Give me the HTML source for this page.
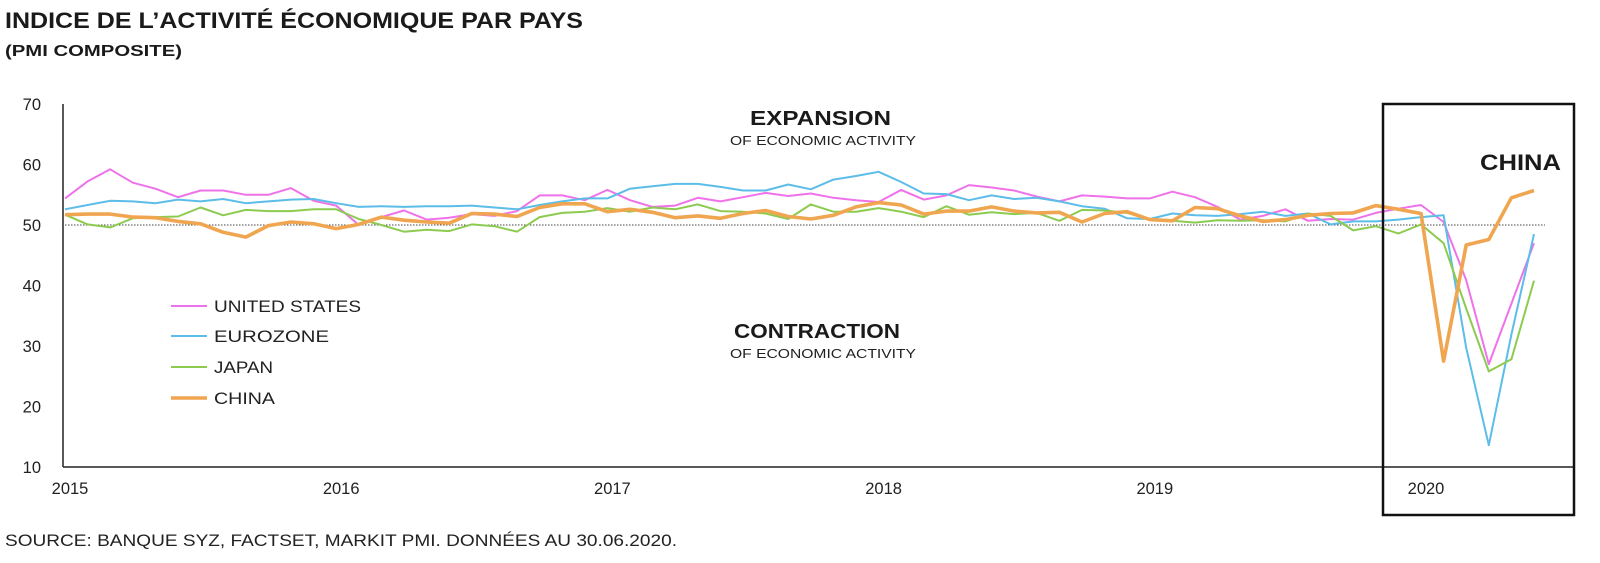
<!DOCTYPE html>
<html><head><meta charset="utf-8"><style>
html,body{margin:0;padding:0;background:#fff;width:1600px;height:563px;overflow:hidden}
svg{display:block;font-family:"Liberation Sans",sans-serif}
</style></head><body>
<svg id="chart" width="1600" height="563" viewBox="0 0 1600 563" xmlns="http://www.w3.org/2000/svg">
<text x="5" y="28" font-size="22" font-weight="bold" fill="#1a1a1a" textLength="578" lengthAdjust="spacingAndGlyphs">INDICE DE L’ACTIVITÉ ÉCONOMIQUE PAR PAYS</text>
<text x="5" y="56" font-size="16" font-weight="bold" fill="#1a1a1a" textLength="177" lengthAdjust="spacingAndGlyphs">(PMI COMPOSITE)</text>
<g id="yaxis"></g>
<g id="xaxis"></g>
<line x1="62" y1="225" x2="1545" y2="225" stroke="#444" stroke-width="1" stroke-dasharray="1.5,1.5"/>
<g id="series"></g>
<rect x="1383" y="104" width="191" height="411" fill="none" stroke="#111" stroke-width="2.5"/>
<text x="1480" y="170" font-size="22" font-weight="bold" fill="#1a1a1a" textLength="81" lengthAdjust="spacingAndGlyphs">CHINA</text>
<text x="750" y="125" font-size="20" font-weight="bold" fill="#1a1a1a" textLength="141" lengthAdjust="spacingAndGlyphs">EXPANSION</text>
<text x="730" y="145" font-size="13" fill="#222" textLength="186" lengthAdjust="spacingAndGlyphs">OF ECONOMIC ACTIVITY</text>
<text x="734" y="338" font-size="20" font-weight="bold" fill="#1a1a1a" textLength="166" lengthAdjust="spacingAndGlyphs">CONTRACTION</text>
<text x="730" y="358" font-size="13" fill="#222" textLength="186" lengthAdjust="spacingAndGlyphs">OF ECONOMIC ACTIVITY</text>
<g id="legend"></g>
<text x="5" y="546" font-size="17" fill="#222" textLength="672" lengthAdjust="spacingAndGlyphs">SOURCE: BANQUE SYZ, FACTSET, MARKIT PMI. DONNÉES AU 30.06.2020.</text>
</svg>
<script>
const yTicks = [10, 20, 30, 40, 50, 60, 70];
const xYears = ["2015", "2016", "2017", "2018", "2019", "2020"];
const seriesNames = ["UNITED STATES", "EUROZONE", "JAPAN", "CHINA"];
const legendWidths = [147, 115, 59, 61];
const usValues = [54.4,57.2,59.2,57.0,56.0,54.6,55.7,55.7,55.0,55.0,56.1,54.0,
 53.2,50.0,51.3,52.4,50.9,51.2,51.8,51.5,52.3,54.9,54.9,54.1,
 55.8,54.1,53.0,53.2,54.5,53.9,54.6,55.3,54.8,55.2,54.5,54.1,
 53.8,55.8,54.2,54.9,56.6,56.2,55.7,54.7,53.9,54.9,54.7,54.4,
 54.4,55.5,54.6,53.0,50.9,51.5,52.6,50.7,51.0,50.9,52.0,52.7,
 53.3,50.5,40.9,27.0,37.0,47.0];
const euroValues = [52.6,53.3,54.0,53.9,53.6,54.2,53.9,54.3,53.6,53.9,54.2,54.3,
 53.6,53.0,53.1,53.0,53.1,53.1,53.2,52.9,52.6,53.3,53.9,54.4,
 54.4,56.0,56.4,56.8,56.8,56.3,55.7,55.7,56.7,55.9,57.5,58.1,
 58.8,57.1,55.2,55.1,54.1,54.9,54.3,54.5,53.9,53.1,52.7,51.1,
 51.0,51.9,51.6,51.5,51.8,52.2,51.5,51.9,50.1,50.6,50.6,50.9,
 51.3,51.6,29.7,13.6,31.9,48.5];
const japanValues = [51.7,50.1,49.6,51.1,51.3,51.4,52.9,51.6,52.5,52.3,52.3,52.6,
 52.6,51.0,50.0,48.9,49.2,49.0,50.1,49.8,48.9,51.3,52.0,52.2,
 52.8,52.2,52.9,52.6,53.4,52.3,52.2,51.9,51.0,53.4,52.2,52.2,
 52.8,52.2,51.3,53.1,51.7,52.1,51.8,52.0,50.7,52.5,52.4,52.0,
 50.9,50.7,50.4,50.8,50.7,50.8,50.6,51.9,51.5,49.1,49.8,48.6,
 50.1,47.0,36.2,25.8,27.8,40.8];
const chinaValues = [51.7,51.8,51.8,51.3,51.2,50.6,50.2,48.8,48.0,49.9,50.5,50.2,
 49.4,50.1,51.3,50.8,50.5,50.3,51.9,51.8,51.4,52.9,53.5,53.5,
 52.2,52.6,52.1,51.2,51.5,51.1,51.9,52.4,51.4,51.0,51.6,53.0,
 53.7,53.3,51.8,52.3,52.3,53.0,52.3,52.0,52.1,50.5,51.9,52.2,
 50.9,50.7,52.9,52.7,51.5,50.6,50.9,51.6,51.9,52.0,53.2,52.6,
 51.9,27.5,46.7,47.6,54.5,55.7];

const NS = "http://www.w3.org/2000/svg";
const X0 = 63, MONTH = 22.6, Y10 = 467, YPX = 6.05;
function xScale(i){ return X0 + 2 + i*MONTH; }
function yScale(v){ return Y10 - (v-10)*YPX; }
function mk(tag, attrs, parent){ const e=document.createElementNS(NS,tag); for(const k in attrs) e.setAttribute(k,attrs[k]); parent.appendChild(e); return e; }

const yAxis = document.getElementById('yaxis');
const ax = mk('line',{x1:X0,y1:yScale(70),x2:X0,y2:Y10,stroke:'#222','stroke-width':1.5},yAxis);


yTicks.forEach(t=>{
  const tx = mk('text',{x:41,y:yScale(t)+6,'font-size':16.5,'text-anchor':'end',fill:'#222'},yAxis);
  tx.textContent = t;
  
  
});
const xAxis = document.getElementById('xaxis');
const bl = mk('line',{x1:X0,y1:Y10,x2:1574,y2:Y10,stroke:'#222','stroke-width':1.5},xAxis);


xYears.forEach((yr,k)=>{
  const tx = mk('text',{x:xScale(k*12)+5,y:494,'font-size':16.5,'text-anchor':'middle',fill:'#222'},xAxis);
  tx.textContent = yr;
  
  
});

const seriesData = [usValues, euroValues, japanValues, chinaValues];
const colors = ['#ef72ea','#5cbde8','#8ccb50','#f0a650'];
const widths = [2,2,2,3.6];
const sg = document.getElementById('series');
const keys = ['united-states','eurozone','japan','china'];
seriesData.forEach((vals,s)=>{
  const d = vals.map((v,i)=>(i?'L':'M')+xScale(i).toFixed(1)+','+yScale(v).toFixed(1)).join(' ');
  const p = mk('path',{d:d,fill:'none',stroke:colors[s],'stroke-width':widths[s],'stroke-linejoin':'round'},sg);
  
  
});

const lg = document.getElementById('legend');
const legY = [306, 336, 367, 398];
seriesNames.forEach((n,s)=>{
  const l = mk('line',{x1:171,y1:legY[s],x2:207,y2:legY[s],stroke:colors[s],'stroke-width':widths[s]},lg);
  
  
  const t = mk('text',{x:214,y:legY[s]+6,'font-size':16.5,fill:'#222',textLength:legendWidths[s],lengthAdjust:'spacingAndGlyphs'},lg);
  t.textContent = n;
  
  
});
</script>
</body></html>
